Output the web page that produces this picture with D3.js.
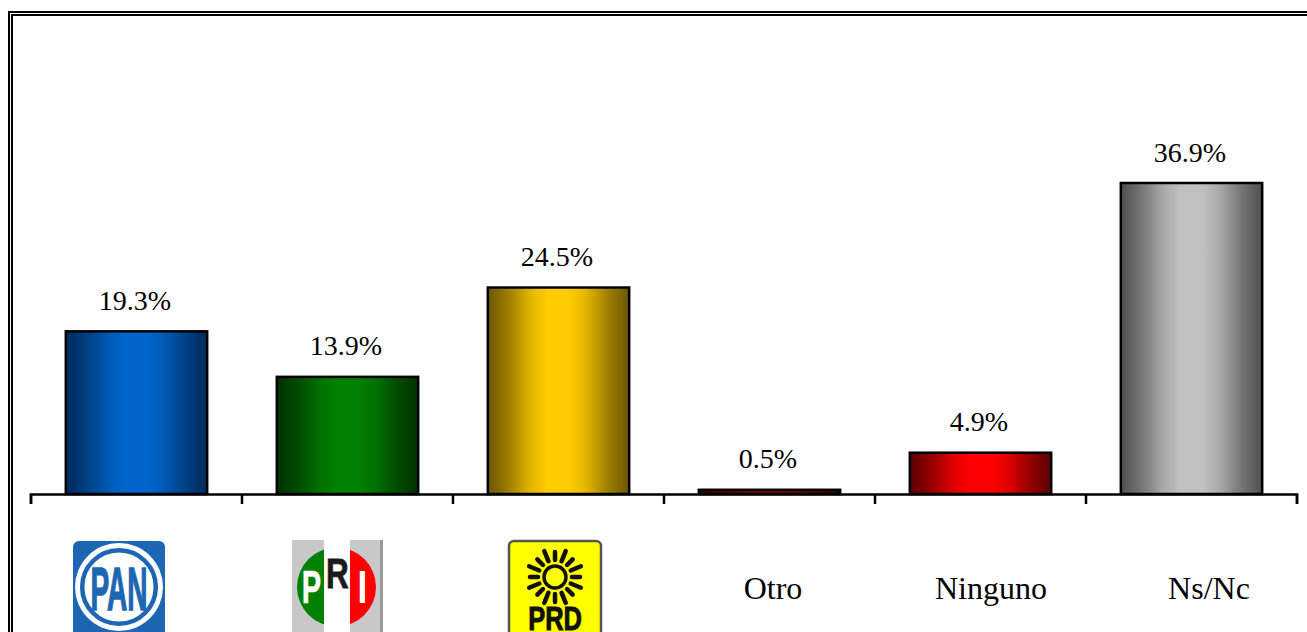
<!DOCTYPE html>
<html>
<head>
<meta charset="utf-8">
<script src="https://cdn.jsdelivr.net/npm/d3@7"></script>
<style>
html, body { margin: 0; padding: 0; background: #fff; overflow: hidden; }
text { font-family: "Liberation Serif", serif; fill: #000; }
</style>
</head>
<body>
<div id="chart"></div>
<script>
// data
const categories = ["PAN", "PRI", "PRD", "Otro", "Ninguno", "Ns/Nc"];
const values = [19.3, 13.9, 24.5, 0.5, 4.9, 36.9];
const edgeColors = ["#002a5a", "#003000", "#6b5500", "#3a0000", "#5a0000", "#4f4f4f"];
const midColors = ["#0066cc", "#008000", "#ffcc00", "#800000", "#ff0000", "#c0c0c0"];
const logoCategories = ["PAN", "PRI", "PRD"];

const width = 1307, height = 632;
const svg = d3.select("#chart").append("svg")
	.attr("width", width)
	.attr("height", height)
	.style("display", "block");

// double frame, runs off the right and bottom of the photo
svg.append("rect").attr("x", 9).attr("y", 12).attr("width", 1400).attr("height", 800)
	.attr("fill", "none").attr("stroke", "#000").attr("stroke-width", 2);
svg.append("rect").attr("x", 12).attr("y", 15).attr("width", 1400).attr("height", 800)
	.attr("fill", "none").attr("stroke", "#000").attr("stroke-width", 2);

// scales
const x = d3.scaleBand().domain(categories).range([31, 1297]).paddingInner(0.33).paddingOuter(0.165);
const y = d3.scaleLinear().domain([0, 36.9]).range([494, 183]);
const xEdges = d3.scaleLinear().domain([0, categories.length]).range([30.5, 1296.5]);
// the labels under the axis are spaced a bit wider than the bars
const xLabels = d3.scalePoint().domain(categories).range([119, 1209]);

// gradients, dark at the edges of the bar, eased so there is no hard band
const defs = svg.append("defs");
const gradStops = [[0, 0], [15, 0.35], [30, 0.8], [42, 1], [58, 1], [70, 0.8], [85, 0.35], [100, 0]];
categories.forEach((c, i) => {
	const g = defs.append("linearGradient").attr("id", "grad" + i);
	const mix = d3.interpolateRgb(edgeColors[i], midColors[i]);
	gradStops.forEach(s => {
		g.append("stop").attr("offset", s[0] + "%").attr("stop-color", mix(s[1]));
	});
});

// bars
svg.selectAll("rect.bar")
	.data(values)
	.enter()
	.append("rect")
	.attr("class", "bar")
	.attr("x", (d, i) => x(categories[i]))
	.attr("y", d => y(d))
	.attr("width", x.bandwidth())
	.attr("height", d => y(0) - y(d))
	.attr("fill", (d, i) => `url(#grad${i})`)
	.attr("stroke", "#000")
	.attr("stroke-width", 2.5);

// value labels
svg.selectAll("text.val")
	.data(values)
	.enter()
	.append("text")
	.attr("class", "val")
	.attr("x", (d, i) => x(categories[i]) + x.bandwidth() / 2 - 1.5)
	.attr("y", d => y(d) - 21.5)
	.attr("text-anchor", "middle")
	.style("font-size", "28px")
	.text(d => d.toFixed(1) + "%");

// axis, ticks sit between the categories
const axis = svg.append("g")
	.attr("transform", `translate(0,${y(0)})`)
	.call(d3.axisBottom(xEdges).ticks(categories.length).tickSize(10).tickFormat(""));
axis.selectAll("path, line").attr("stroke", "#000").attr("stroke-width", 2.5);

// plain text categories
svg.selectAll("text.cat")
	.data(categories.filter(c => !logoCategories.includes(c)))
	.enter()
	.append("text")
	.attr("class", "cat")
	.attr("x", c => xLabels(c))
	.attr("y", 599)
	.attr("text-anchor", "middle")
	.style("font-size", "32px")
	.text(c => c);

// party logos, drawn around their label position
function logo(c) {
	return svg.append("g").attr("transform", `translate(${xLabels(c)},587)`);
}
function logoText(g, s, px, py, size, sx, color, stroke) {
	g.append("text")
		.attr("transform", `translate(${px},${py}) scale(${sx},1)`)
		.attr("text-anchor", "middle")
		.style("font-family", "'Liberation Sans'")
		.style("font-weight", "bold")
		.style("font-size", size + "px")
		.style("fill", color)
		.style("stroke", color)
		.style("stroke-width", stroke)
		.text(s);
}

const pan = logo("PAN");
pan.append("rect").attr("x", -46).attr("y", -46).attr("width", 92).attr("height", 100).attr("rx", 6).attr("fill", "#1c66b4");
pan.append("circle").attr("r", 44).attr("fill", "#fff");
pan.append("circle").attr("r", 36.8).attr("fill", "#fff").attr("stroke", "#1c66b4").attr("stroke-width", 4.5);
logoText(pan, "PAN", 0, 23, 61, 0.46, "#1c66b4", 1.5);

const pri = logo("PRI");
const priX = -0.5, priR = 39.5; // circle sits slightly off the middle of the grey box
pri.append("rect").attr("x", -45).attr("y", -47).attr("width", 88).attr("height", 100).attr("fill", "#c8c8c8");
pri.append("rect").attr("x", 43).attr("y", -47).attr("width", 3).attr("height", 100).attr("fill", "#999");
pri.append("path").attr("d", d3.arc()({ innerRadius: 0, outerRadius: priR, startAngle: -Math.PI, endAngle: 0 }))
	.attr("transform", `translate(${priX},0)`).attr("fill", "#008000");
pri.append("path").attr("d", d3.arc()({ innerRadius: 0, outerRadius: priR, startAngle: 0, endAngle: Math.PI }))
	.attr("transform", `translate(${priX},0)`).attr("fill", "#ff0000");
pri.append("rect").attr("x", -13).attr("y", -47).attr("width", 26).attr("height", 100).attr("fill", "#fff");
logoText(pri, "P", -25.5, 16, 47, 0.62, "#fff", 0.5);
logoText(pri, "R", 0.5, 1, 42, 0.75, "#1a1a1a", 0.8);
logoText(pri, "I", 25.5, 16, 47, 0.75, "#fff", 0);

const prd = logo("PRD");
prd.append("rect").attr("x", -46).attr("y", -46).attr("width", 92).attr("height", 100).attr("rx", 5)
	.attr("fill", "#ffff00").attr("stroke", "#555").attr("stroke-width", 2.5);
const rays = d3.range(16);
prd.selectAll("line.ray")
	.data(rays)
	.enter()
	.append("line")
	.attr("class", "ray")
	.attr("x1", d => 17 * Math.cos(d * Math.PI / 8 + Math.PI / 2))
	.attr("y1", d => -10 + 17 * Math.sin(d * Math.PI / 8 + Math.PI / 2))
	.attr("x2", d => (d % 2 ? 28 : 25) * Math.cos(d * Math.PI / 8 + Math.PI / 2))
	.attr("y2", d => -10 + (d % 2 ? 28 : 25) * Math.sin(d * Math.PI / 8 + Math.PI / 2))
	.attr("stroke", "#111").attr("stroke-width", 4.5).attr("stroke-linecap", "round");
prd.append("circle").attr("cy", -10).attr("r", 11).attr("fill", "none").attr("stroke", "#111").attr("stroke-width", 3.5);
logoText(prd, "PRD", 0, 43, 33, 0.77, "#111", 1);
</script>
</body>
</html>
